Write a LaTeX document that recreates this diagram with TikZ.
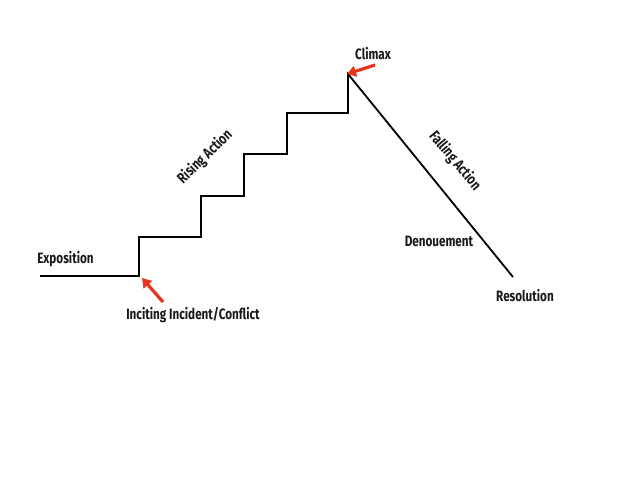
\documentclass[tikz,border=0pt]{standalone}
\usepackage{fontspec}
\newfontfamily\hand[FakeStretch=0.78]{Fira Sans}
\usetikzlibrary{arrows.meta}
\definecolor{arrowred}{RGB}{232,52,28}
\tikzset{
  plotline/.style={line width=1.8pt, black, line join=miter},
  lbl/.style={font=\hand\bfseries\fontsize{15}{17}\selectfont, inner sep=0pt, text=black!90},
  pointer/.style={arrowred, line width=3.2pt, -{Triangle[length=9pt,width=11pt]}}
}
\begin{document}
\begin{tikzpicture}[x=1pt,y=-1pt]
\useasboundingbox (0,0) rectangle (640,480);
% vertices
\coordinate (p0) at (40,276);
\coordinate (p1) at (139,276);
\coordinate (p2) at (139,237);
\coordinate (p3) at (201,237);
\coordinate (p4) at (201,196);
\coordinate (p5) at (244,196);
\coordinate (p6) at (244,154);
\coordinate (p7) at (287,154);
\coordinate (p8) at (287,113);
\coordinate (p9) at (348,113);
\coordinate (p10) at (348,74);
\coordinate (p11) at (513,277);
\draw[plotline] (p0) -- (p1) -- (p2) -- (p3) -- (p4) -- (p5) -- (p6) -- (p7) -- (p8) -- (p9) -- (p10) -- (p11);
% labels
\node[lbl] (expo) at (65.5,259) {Exposition};
\node[lbl] (incite) at (193,315) {Inciting Incident/Conflict};
\node[lbl] (climax) at (373,54) {Climax};
\node[lbl, rotate=44] (rising) at (205,157) {Rising Action};
\node[lbl, rotate=-50] (falling) at (455,161) {Falling Action};
\node[lbl] (denoue) at (439,241) {Denouement};
\node[lbl] (resol) at (525,296) {Resolution};
% arrows
\coordinate (a1t) at (163,302);
\coordinate (a1h) at (142,278);
\coordinate (a2t) at (375,65);
\coordinate (a2h) at (347,74);
\draw[pointer] (a1t) -- (a1h);
\draw[pointer] (a2t) -- (a2h);
\end{tikzpicture}
\end{document}
